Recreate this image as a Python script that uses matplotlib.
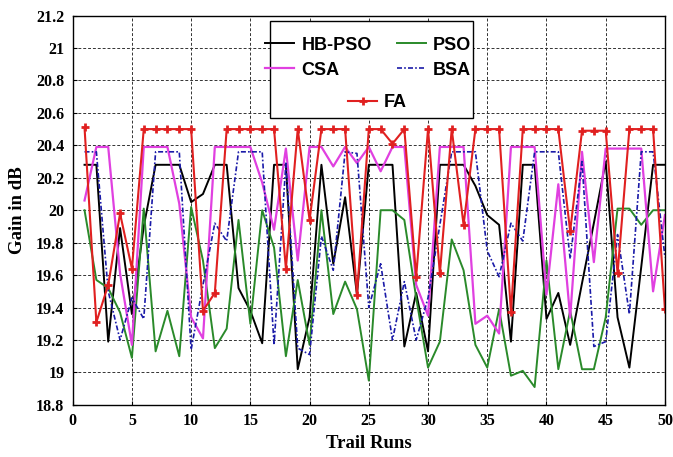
import numpy as np
import matplotlib
matplotlib.use("Agg")
import matplotlib.pyplot as plt
from matplotlib.patches import Rectangle

runs = np.arange(1, 51)

hb_pso = [20.28, 20.28, 19.19, 19.89, 19.36, 19.90, 20.28, 20.28, 20.28, 20.05,
          20.10, 20.28, 20.28, 19.52, 19.38, 19.18, 20.28, 20.28, 19.02, 19.34,
          20.28, 19.67, 20.08, 19.48, 20.28, 20.28, 20.28, 19.16, 19.49, 19.13,
          20.28, 20.28, 20.28, 20.15, 19.97, 19.91, 19.19, 20.28, 20.28, 19.33,
          19.49, 19.17, 19.55, 19.92, 20.30, 19.34, 19.03, 19.65, 20.28, 20.28]

pso = [20.00, 19.57, 19.52, 19.37, 19.09, 20.01, 19.13, 19.38, 19.10, 20.02,
       19.69, 19.15, 19.27, 19.94, 19.30, 20.00, 19.77, 19.10, 19.57, 19.17,
       20.00, 19.36, 19.56, 19.39, 18.95, 20.00, 20.00, 19.94, 19.46, 19.03,
       19.19, 19.82, 19.63, 19.17, 19.03, 19.39, 18.98, 19.01, 18.91, 19.69,
       19.02, 19.38, 19.02, 19.02, 19.34, 20.01, 20.01, 19.91, 20.00, 20.00]

csa = [20.06, 20.39, 20.39, 19.61, 19.17, 20.39, 20.39, 20.39, 20.04, 19.34,
       19.21, 20.39, 20.39, 20.39, 20.39, 20.17, 19.88, 20.38, 19.69, 20.39,
       20.39, 20.27, 20.39, 20.29, 20.39, 20.24, 20.39, 20.39, 19.54, 19.35,
       20.39, 20.39, 20.39, 19.30, 19.35, 19.24, 20.39, 20.39, 20.39, 19.48,
       20.16, 19.34, 20.36, 19.68, 20.38, 20.38, 20.38, 20.38, 19.50, 19.97]

bsa = [20.36, 20.36, 19.50, 19.20, 19.46, 19.33, 20.36, 20.36, 20.36, 19.14,
       19.54, 19.92, 19.81, 20.36, 20.36, 20.36, 19.17, 20.29, 19.15, 19.11,
       19.84, 19.63, 20.36, 20.35, 19.40, 19.67, 19.20, 19.56, 19.20, 19.46,
       19.91, 20.36, 20.36, 20.36, 19.75, 19.59, 19.92, 19.81, 20.36, 20.36,
       20.36, 19.70, 20.30, 19.16, 19.19, 19.85, 19.36, 20.36, 20.36, 19.71]

fa = [20.51, 19.31, 19.54, 19.98, 19.64, 20.50, 20.50, 20.50, 20.50, 20.50,
      19.38, 19.49, 20.50, 20.50, 20.50, 20.50, 20.50, 19.64, 20.50, 19.94,
      20.50, 20.50, 20.50, 19.48, 20.50, 20.50, 20.41, 20.50, 19.59, 20.50,
      19.61, 20.50, 19.91, 20.50, 20.50, 20.50, 19.37, 20.50, 20.50, 20.50,
      20.50, 19.87, 20.49, 20.49, 20.49, 19.61, 20.50, 20.50, 20.50, 19.39]

x_ticks = np.arange(0, 51, 5)
y_ticks = [18.8, 19, 19.2, 19.4, 19.6, 19.8, 20, 20.2, 20.4, 20.6, 20.8, 21, 21.2]
y_labels = ["18.8", "19", "19.2", "19.4", "19.6", "19.8", "20", "20.2", "20.4",
            "20.6", "20.8", "21", "21.2"]

serif = "Liberation Serif"
sans = "Liberation Sans"

fig = plt.figure(figsize=(6.73, 4.57), dpi=100)
ax = fig.add_axes([0.108, 0.114, 0.880, 0.852])

l_hb, = ax.plot(runs, hb_pso, color="black", lw=1.4, label="HB-PSO")
l_pso, = ax.plot(runs, pso, color="#2a8a2a", lw=1.4, label="PSO")
l_csa, = ax.plot(runs, csa, color="#e040e0", lw=1.6, label="CSA")
l_bsa, = ax.plot(runs, bsa, color="#1a1aa8", lw=1.2, dashes=(3, 1.3, 1, 1.3),
                 label="BSA")
l_fa, = ax.plot(runs, fa, color="#e02020", lw=1.5, marker="+", ms=6, mew=2.0,
                label="FA")

ax.set_xlim(0, 50)
ax.set_ylim(18.8, 21.2)
ax.set_xticks(x_ticks)
ax.set_yticks(y_ticks)
ax.set_yticklabels(y_labels)
ax.grid(True, color="#333333", lw=0.7, ls=(0, (3, 2)))
ax.tick_params(direction="in", length=3, pad=6)
for lab in ax.get_xticklabels() + ax.get_yticklabels():
    lab.set_fontfamily(serif)
    lab.set_fontweight("bold")
    lab.set_fontsize(11.5)
for s in ax.spines.values():
    s.set_linewidth(1.0)

ax.set_xlabel("Trail Runs", fontfamily=serif, fontweight="bold", fontsize=13.5,
              labelpad=4)
ax.set_ylabel("Gain in dB", fontfamily=serif, fontweight="bold", fontsize=13.5,
              labelpad=7)

# legend box drawn by hand so FA can sit centred under the two columns
ax.add_patch(Rectangle((0.333, 0.738), 0.343, 0.247, transform=ax.transAxes,
                       facecolor="white", edgecolor="black", lw=1.0, zorder=5))

font_leg = {"family": sans, "weight": "bold", "size": 13}
leg1 = ax.legend([l_hb, l_csa, l_pso, l_bsa], ["HB-PSO", "CSA", "PSO", "BSA"],
                 ncol=2, loc="center", bbox_to_anchor=(0.499, 0.892),
                 frameon=False, prop=font_leg, handlelength=1.6,
                 handletextpad=0.4, columnspacing=1.4, labelspacing=0.45,
                 borderpad=0)
leg1.set_zorder(6)
ax.add_artist(leg1)
leg2 = ax.legend([l_fa], ["FA"], loc="center", bbox_to_anchor=(0.515, 0.776),
                 frameon=False, prop=font_leg, handlelength=1.6,
                 handletextpad=0.4, borderpad=0, numpoints=1)
leg2.set_zorder(6)

fig.savefig("out.png", dpi=100)
